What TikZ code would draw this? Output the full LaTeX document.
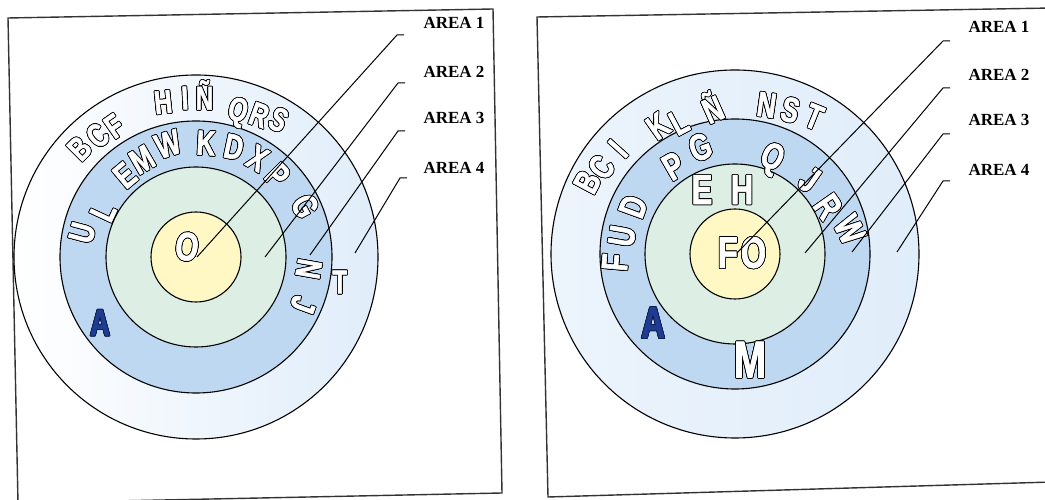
\documentclass[tikz,border=0pt]{standalone}
\usepackage{fontspec}
\setmainfont{Liberation Serif}
\newfontfamily\letterfont[FakeStretch=0.74, BoldFeatures={FakeBold=1.6}]{Liberation Sans}
\usepackage{contour}
\contourlength{0.75pt}
\usetikzlibrary{calc}
\definecolor{ringout}{RGB}{224,237,250}
\definecolor{ringblue}{RGB}{190,216,242}
\definecolor{ringgreen}{RGB}{221,239,229}
\definecolor{ringyellow}{RGB}{255,247,196}
\definecolor{darkA}{RGB}{30,60,145}
\tikzset{
  ltr/.style={font=\letterfont\bfseries\fontsize{#1}{#1}\selectfont, text=white, inner sep=0pt},
  ltr/.default=33,
  area/.style={font=\bfseries\fontsize{17}{17}\selectfont, inner sep=0pt},
  ring/.style={draw=black, line width=1.1pt},
  frame/.style={draw=black!80, line width=1.4pt},
  callout/.style={draw=black, line width=1pt}
}

\begin{document}
\begin{tikzpicture}[x=1pt,y=1pt]
  \useasboundingbox (0,0) rectangle (1045,500);
  % the two frames (scanned a little askew)
  \draw[frame] (8,482) -- (493,491) -- (502,7) -- (18,-3) -- cycle;
  \draw[frame] (537,483) -- (1052,492) -- (1052,18) -- (548,3) -- cycle;
  % left target
  \coordinate (cL) at (196,243);
  \shade[ring, left color=white, right color=ringout] (cL) circle[radius=182pt];
  \draw[ring, fill=ringblue] (cL) circle[radius=136pt];
  \draw[ring, fill=ringgreen] (cL) circle[radius=90pt];
  \draw[ring, fill=ringyellow] (cL) circle[radius=45pt];
  \foreach \t/\a/\r/\w [count=\i] in {B/137/159/45, C/129/156/40, F/122/154/35, H/102/158/6, I/94/159/3, Ñ/87/162/0,
      Q/74/150/-15, R/66/155/-20, S/59/160/-26, T/-10/146/0}
    \node[ltr, rotate=\w] (lo\i) at ([shift={(\a:\r)}]cL) {\contour{black}{\t}};
  \foreach \t/\a/\r/\w [count=\i] in {U/168/116/75, L/154/103/65, E/131/108/40, M/119/111/30, W/104/116/18, K/85/114/-3,
      D/71/116/-12, X/58/116/-30, P/45/115/-45, G/25/120/-62, N/-6/113/-100, J/-24/117/-110}
    \node[ltr=35, rotate=\w] (lb\i) at ([shift={(\a:\r)}]cL) {\contour{black}{\t}};
  \node[ltr=40, rotate=-8] (lO) at (187,253) {\contour{black}{O}};
  \node[ltr=37, text=darkA] (lA) at (100,177) {\contour{darkA!50!black}{A}};
  % right target
  \coordinate (cR) at (735,246);
  \shade[ring, left color=ringout!60, right color=ringout] (cR) circle[radius=184pt];
  \draw[ring, fill=ringblue] (cR) circle[radius=135pt];
  \draw[ring, fill=ringgreen] (cR) circle[radius=90pt];
  \draw[ring, fill=ringyellow] (cR) circle[radius=45pt];
  \foreach \t/\a/\r/\w [count=\i] in {B/154/164/62, C/147/159/55, I/138/157/48, K/121/149/35, L/113/143/28, Ñ/99/149/24,
      N/78/152/-8, S/69/154/-15, T/60/158/-22}
    \node[ltr=35, rotate=\w] (ro\i) at ([shift={(\a:\r)}]cR) {\contour{black}{\t}};
  \foreach \t/\a/\r/\w [count=\i] in {F/184/120/85, U/171/114/80, D/155/112/70, P/125/107/30, G/108/112/20,
      Q/69/101/-25, J/45/105/-35, R/27/104/-55, W/12/117/-62}
    \node[ltr=37, rotate=\w] (rb\i) at ([shift={(\a:\r)}]cR) {\contour{black}{\t}};
  \node[ltr=42] (rE) at (702,310) {\contour{black}{E}}; \node[ltr=42] (rH) at (742,310) {\contour{black}{H}};
  \node[ltr=44] (rFO) at (742,247) {\contour{black}{F\kern3pt O}};
  \node[ltr=52] (rM) at (750,140) {\contour{black}{M}};
  \node[ltr=44, text=darkA] (rA) at (653,177) {\contour{darkA!50!black}{A}};
  % callouts
  \foreach \n/\y in {1/477,2/428,3/382,4/332} \node[area] (aL\n) at (454,\y) {AREA \n};
  \foreach \n/\y in {1/473,2/425,3/380,4/330} \node[area] (aR\n) at (999,\y) {AREA \n};
  \coordinate (eL1) at (197,243); \coordinate (eL2) at (265,243); \coordinate (eL3) at (310,245); \coordinate (eL4) at (355,247);
  \coordinate (kL1) at (397,465); \coordinate (kL2) at (398,417); \coordinate (kL3) at (398,369); \coordinate (kL4) at (400,322);
  \coordinate (eR1) at (737,247); \coordinate (eR2) at (805,247); \coordinate (eR3) at (852,248); \coordinate (eR4) at (897,248);
  \coordinate (kR1) at (943,459); \coordinate (kR2) at (943,412); \coordinate (kR3) at (943,366); \coordinate (kR4) at (943,319);
  \foreach \n in {1,...,4} {
    \draw[callout] (eL\n) -- (kL\n) -- ++(7,0);
    \draw[callout] (eR\n) -- (kR\n) -- ++(7,0);
  }
\end{tikzpicture}
\end{document}
